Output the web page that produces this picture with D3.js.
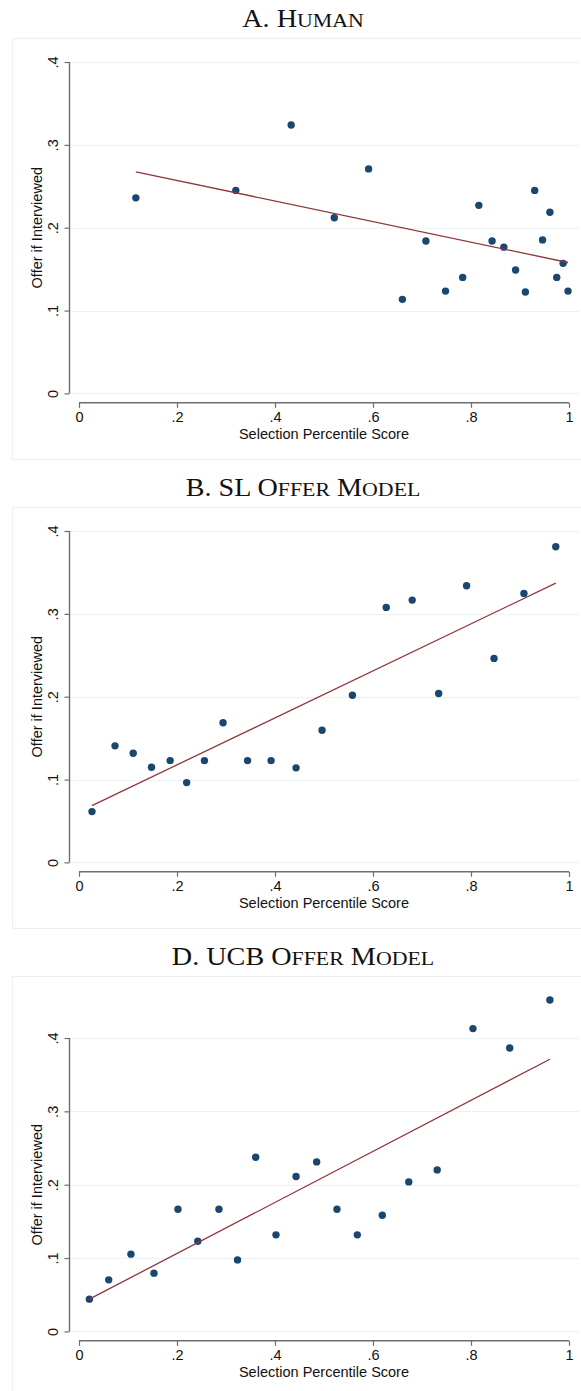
<!DOCTYPE html>
<html>
<head>
<meta charset="utf-8">
<script src="https://cdn.jsdelivr.net/npm/d3@7"></script>
<style>
  html, body { margin: 0; padding: 0; background: #ffffff; }
  svg { display: block; }
</style>
</head>
<body>
<svg id="chart" width="581" height="1391"></svg>
<script>
// ---------- data ----------
const panelTitles = ["A. Human", "B. SL Offer Model", "D. UCB Offer Model"];
const xLabel = "Selection Percentile Score";
const yLabel = "Offer if Interviewed";
const xTicks = [0, 0.2, 0.4, 0.6, 0.8, 1];
const xTickLabels = ["0", ".2", ".4", ".6", ".8", "1"];
const yTicks = [0, 0.1, 0.2, 0.3, 0.4];
const yTickLabels = ["0", ".1", ".2", ".3", ".4"];

const humanX = [0.116, 0.320, 0.433, 0.521, 0.591, 0.660, 0.708, 0.748, 0.783, 0.816,
                0.843, 0.867, 0.891, 0.911, 0.930, 0.946, 0.961, 0.975, 0.988, 0.998];
const humanY = [0.236, 0.245, 0.324, 0.212, 0.271, 0.1135, 0.184, 0.1235, 0.140, 0.227,
                0.184, 0.1765, 0.149, 0.1223, 0.245, 0.1853, 0.2186, 0.140, 0.157, 0.1235];
const humanFitX = [0.116, 0.998];
const humanFitY = [0.2675, 0.158];

const slX = [0.0265, 0.0735, 0.1106, 0.148, 0.186, 0.2197, 0.256, 0.294, 0.344, 0.392,
             0.443, 0.496, 0.558, 0.627, 0.680, 0.734, 0.791, 0.847, 0.908, 0.973];
const slY = [0.0613, 0.1407, 0.1317, 0.1148, 0.1229, 0.0963, 0.1229, 0.1685, 0.1229, 0.1229,
             0.1141, 0.1595, 0.2018, 0.3078, 0.3166, 0.2039, 0.334, 0.2462, 0.3247, 0.381];
const slFitX = [0.0265, 0.973];
const slFitY = [0.0685, 0.337];

const ucbX = [0.0212, 0.0606, 0.106, 0.153, 0.202, 0.2424, 0.2856, 0.3235, 0.3606, 0.402,
              0.443, 0.485, 0.5265, 0.568, 0.619, 0.673, 0.731, 0.804, 0.879, 0.961];
const ucbY = [0.044, 0.0703, 0.1053, 0.0794, 0.1666, 0.123, 0.1666, 0.0975, 0.2375, 0.1316,
              0.2112, 0.2311, 0.1666, 0.1316, 0.1584, 0.2038, 0.2202, 0.4128, 0.3864, 0.4518];
const ucbFitX = [0.0212, 0.961];
const ucbFitY = [0.044, 0.371];

// ---------- styling / layout ----------
const markerColor = "#1a476f";
const fitColor = "#90353b";
const gridColor = "#eaf2f3";
const axisColor = "#6e6e6e";
const sansFont = "'Liberation Sans', Arial, Helvetica, sans-serif";
const serifFont = "'Liberation Serif', 'Times New Roman', serif";

const panels = [
  { title: panelTitles[0], xs: humanX, ys: humanY, fx: humanFitX, fy: humanFitY, top: 38 },
  { title: panelTitles[1], xs: slX, ys: slY, fx: slFitX, fy: slFitY, top: 507 },
  { title: panelTitles[2], xs: ucbX, ys: ucbY, fx: ucbFitX, fy: ucbFitY, top: 976 }
];

const svg = d3.select("#chart");
const axisX = 69.5;

// build small-caps title pieces: full-size capitals, smaller capitals for lowercase letters
function smallCapsPieces(str) {
  const pieces = [];
  for (const ch of str) {
    const isLower = ch !== ch.toUpperCase();
    const kind = isLower ? "small" : "big";
    const last = pieces[pieces.length - 1];
    if (last && last.kind === kind) last.text += isLower ? ch.toUpperCase() : ch;
    else pieces.push({ kind, text: isLower ? ch.toUpperCase() : ch });
  }
  return pieces;
}

panels.forEach(p => {
  const g = svg.append("g");
  const T = p.top;
  const zeroY = T + 355.4;
  const yMax = Math.max(0.4, d3.max(p.ys));
  const x = d3.scaleLinear().domain([0, 1]).range([79, 569]);
  const y = d3.scaleLinear().domain([0, yMax]).range([zeroY, T + 24]);

  // outer box
  g.append("rect")
    .attr("x", 12.5).attr("y", T + 0.5)
    .attr("width", 600).attr("height", 421)
    .attr("fill", "#ffffff")
    .attr("stroke", gridColor).attr("stroke-width", 1.2);

  // title (small caps)
  const title = g.append("text")
    .attr("transform", `translate(303,${T - 11}) scale(1.15,1)`)
    .attr("text-anchor", "middle")
    .attr("font-family", serifFont)
    .attr("fill", "#111");
  title.selectAll("tspan").data(smallCapsPieces(p.title)).join("tspan")
    .attr("font-size", d => d.kind === "big" ? 24.5 : 19)
    .text(d => d.text);

  // gridlines
  g.append("g").selectAll("line").data(yTicks).join("line")
    .attr("x1", axisX).attr("x2", 579)
    .attr("y1", d => Math.round(y(d)) + 0.5).attr("y2", d => Math.round(y(d)) + 0.5)
    .attr("stroke", gridColor).attr("stroke-width", 1.2);

  // y axis
  const yAxis = d3.axisLeft(y).tickValues(yTicks)
    .tickFormat((d, i) => yTickLabels[i]).tickSize(5).tickPadding(7);
  const yg = g.append("g").attr("transform", `translate(${axisX},0)`).call(yAxis);
  yg.select(".domain")
    .attr("d", `M0,${y(0)}V${y(0.4)}`)
    .attr("stroke", axisColor).attr("stroke-width", 1.4);
  yg.selectAll(".tick line").attr("stroke", axisColor).attr("stroke-width", 1.2);
  yg.selectAll(".tick text")
    .attr("font-family", sansFont).attr("font-size", 14.5).attr("fill", "#111")
    .attr("x", null).attr("dy", null)
    .attr("text-anchor", "middle")
    .attr("transform", "translate(-12,0) rotate(-90)")
    .attr("y", 0);

  // x axis
  const xAxisY = zeroY + 9.4;
  const xAxis = d3.axisBottom(x).tickValues(xTicks)
    .tickFormat((d, i) => xTickLabels[i]).tickSize(5).tickPadding(4);
  const xg = g.append("g").attr("transform", `translate(0,${xAxisY})`).call(xAxis);
  xg.select(".domain").attr("d", `M${x(0)},0H${x(1)}`)
    .attr("stroke", axisColor).attr("stroke-width", 1.4);
  xg.selectAll(".tick line").attr("stroke", axisColor).attr("stroke-width", 1.2);
  xg.selectAll(".tick text")
    .attr("font-family", sansFont).attr("font-size", 14.5).attr("fill", "#111");

  // axis titles
  g.append("text")
    .attr("x", 324).attr("y", xAxisY + 36)
    .attr("text-anchor", "middle")
    .attr("font-family", sansFont).attr("font-size", 14.5).attr("fill", "#111")
    .text(xLabel);
  g.append("text")
    .attr("transform", `translate(42,${(y(0) + y(0.4)) / 2}) rotate(-90)`)
    .attr("text-anchor", "middle")
    .attr("font-family", sansFont).attr("font-size", 14.5).attr("fill", "#111")
    .text(yLabel);

  // points
  const pts = p.xs.map((v, i) => ({ x: v, y: p.ys[i] }));
  g.append("g").selectAll("circle").data(pts).join("circle")
    .attr("cx", d => x(d.x)).attr("cy", d => y(d.y))
    .attr("r", 3.7).attr("fill", markerColor);

  // fit line
  const fit = p.fx.map((v, i) => [v, p.fy[i]]);
  g.append("path")
    .datum(fit)
    .attr("d", d3.line().x(d => x(d[0])).y(d => y(d[1])))
    .attr("fill", "none").attr("stroke", fitColor).attr("stroke-width", 1.3);
});
</script>
</body>
</html>
